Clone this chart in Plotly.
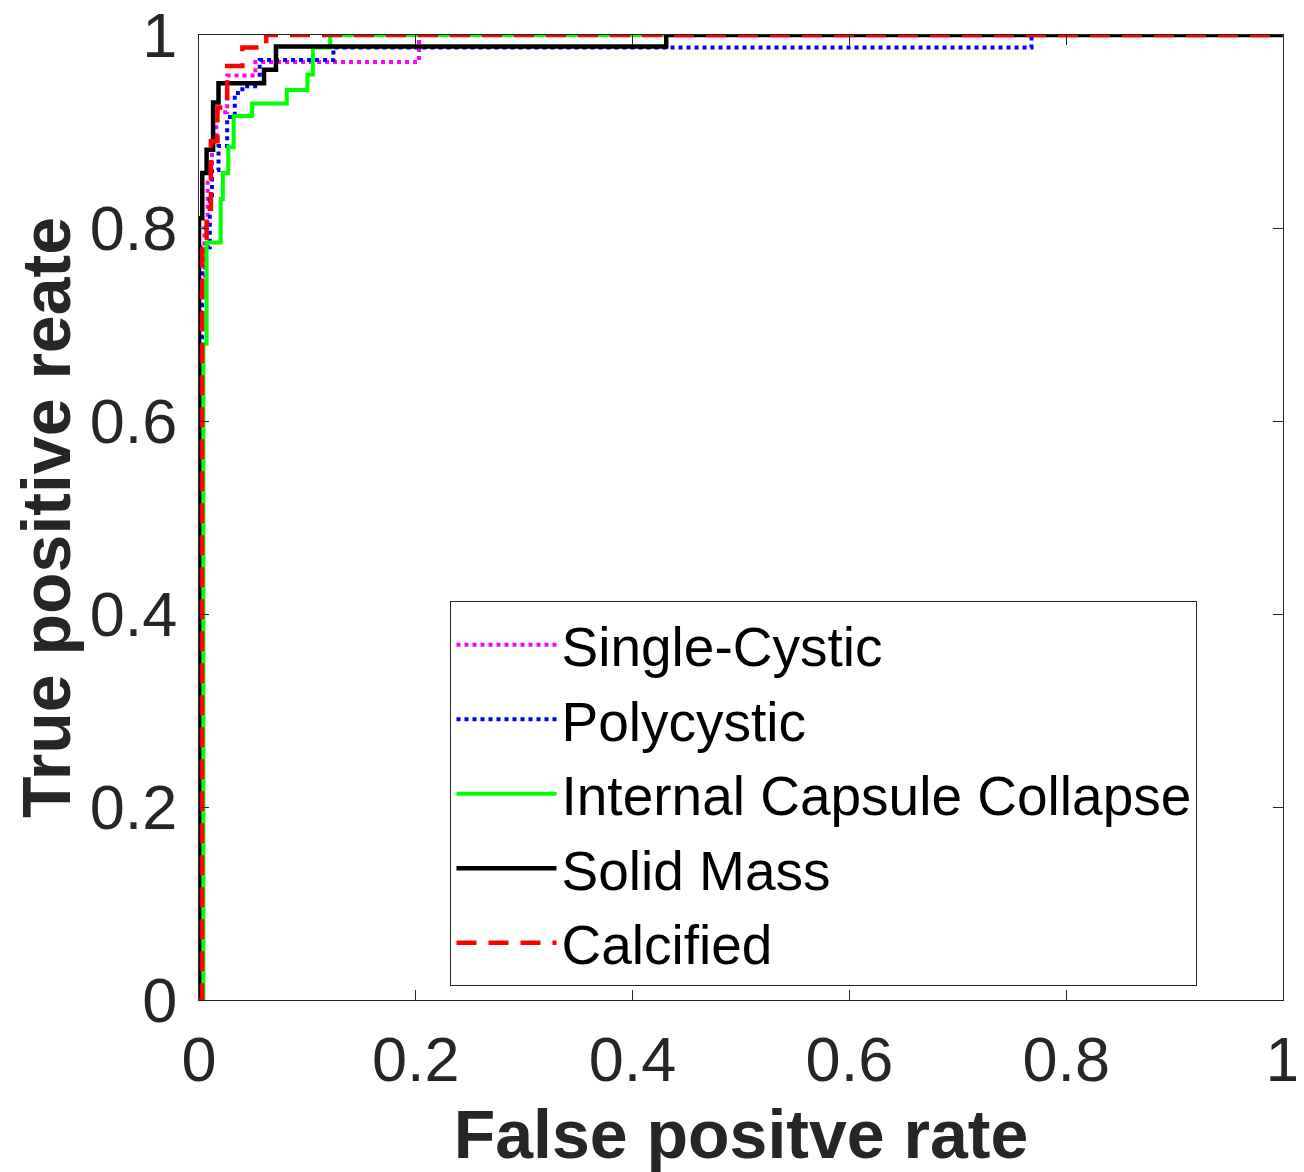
import plotly.graph_objects as go

# ROC step vertices (hv step shape): x = false positive rate, y = true positive rate
names = ["Single-Cystic", "Polycystic", "Internal Capsule Collapse", "Solid Mass", "Calcified"]

fpr_single = [0, 0.002, 0.005, 0.008, 0.012, 0.016, 0.026, 0.052, 0.203, 1]
tpr_single = [0, 0.75, 0.80, 0.85, 0.89, 0.92, 0.958, 0.972, 1.0, 1.0]

fpr_poly = [0, 0.003, 0.010, 0.012, 0.018, 0.026, 0.033, 0.040, 0.056, 0.124, 0.768, 1]
tpr_poly = [0, 0.78, 0.83, 0.86, 0.885, 0.915, 0.94, 0.947, 0.974, 0.987, 1.0, 1.0]

fpr_icc = [0, 0.004, 0.007, 0.020, 0.022, 0.027, 0.032, 0.049, 0.081, 0.100, 0.105, 0.121, 1]
tpr_icc = [0, 0.68, 0.785, 0.83, 0.857, 0.884, 0.916, 0.929, 0.943, 0.959, 0.987, 1.0, 1.0]

fpr_solid = [0, 0, 0.003, 0.007, 0.013, 0.018, 0.060, 0.071, 0.431, 1]
tpr_solid = [0, 0.81, 0.857, 0.881, 0.93, 0.95, 0.964, 0.988, 1.0, 1.0]

fpr_calc = [0, 0.003, 0.007, 0.011, 0.017, 0.026, 0.040, 0.062, 1]
tpr_calc = [0, 0.79, 0.82, 0.89, 0.925, 0.968, 0.987, 1.0, 1.0]

tick_vals = [0, 0.2, 0.4, 0.6, 0.8, 1]
tick_text = ["0", "0.2", "0.4", "0.6", "0.8", "1"]

series = [
    (fpr_single, tpr_single, "#FF00FF", "dot", 4),
    (fpr_poly, tpr_poly, "#0000FF", "dot", 4),
    (fpr_icc, tpr_icc, "#00FF00", "solid", 4),
    (fpr_solid, tpr_solid, "#000000", "solid", 4.5),
    (fpr_calc, tpr_calc, "#FF0000", "20px,12px", 4.5),
]

fig = go.Figure()
for name, (xs, ys, col, dash, w) in zip(names, series):
    fig.add_trace(go.Scatter(
        x=xs, y=ys, mode="lines", name=name, line_shape="hv",
        line=dict(color=col, width=w, dash=dash),
    ))

font_family = "Liberation Sans, Arial, sans-serif"
axis_common = dict(
    range=[0, 1], tickvals=tick_vals, ticktext=tick_text,
    ticks="inside", ticklen=10, tickwidth=1, tickcolor="#262626",
    showline=True, linecolor="#262626", linewidth=1, mirror="ticks",
    showgrid=False, zeroline=False, automargin=False,
    ticklabeloverflow="allow",
    tickfont=dict(family=font_family, size=63, color="#262626"),
)

# page body has an 8px margin, so the figure is sized to fill the rest of the window
fig.update_layout(
    width=1296, height=1164,
    margin=dict(l=191, r=21, t=27, b=172),
    paper_bgcolor="white", plot_bgcolor="white",
    xaxis=dict(**axis_common, ticklabelstandoff=4,
               title=dict(text="<b>False positve rate</b>", standoff=26,
                          font=dict(family=font_family, size=68, color="#262626"))),
    yaxis=dict(**axis_common, ticklabelstandoff=8,
               title=dict(text="<b>True positive reate</b>", standoff=10,
                          font=dict(family=font_family, size=68, color="#262626"))),
    legend=dict(
        x=0.232, y=0.413, xanchor="left", yanchor="top",
        bgcolor="white", bordercolor="#262626", borderwidth=1,
        font=dict(family=font_family, size=55, color="black"),
        itemwidth=100, tracegroupgap=0,
    ),
    showlegend=True,
)

fig.write_html("out.html")
